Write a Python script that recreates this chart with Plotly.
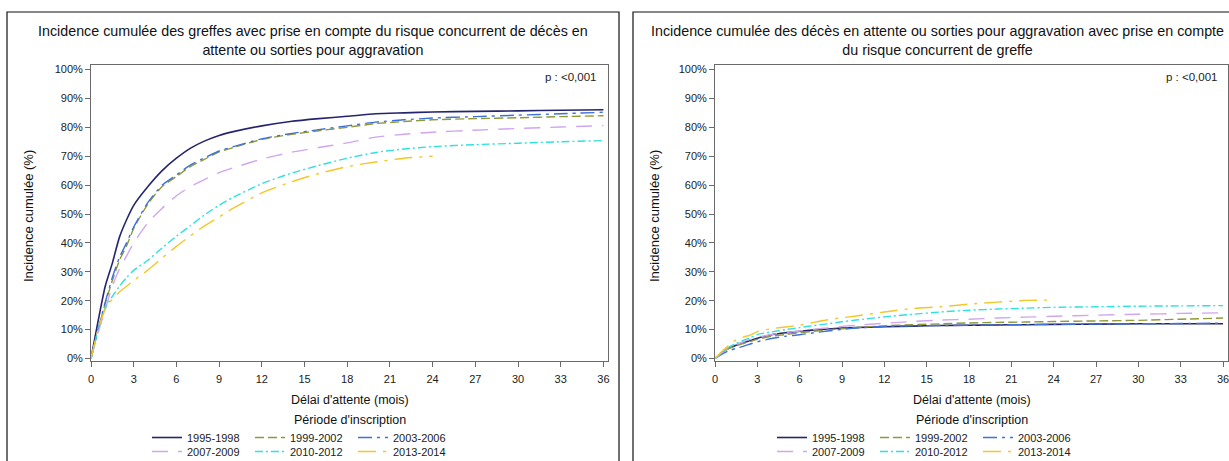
import plotly.graph_objects as go

W, H = 1229, 461

# ---------------- data ----------------
months = [0, 0.5, 1, 1.5, 2, 2.5, 3, 4, 5, 6, 7, 8, 9, 10, 12, 14, 16, 18, 20, 22, 24, 27, 30, 33, 36]
months_short = months[:21]  # 2013-2014 followed up to 24 months

periods = ["1995-1998", "1999-2002", "2003-2006", "2007-2009", "2010-2012", "2013-2014"]

# Left: greffes (transplants)
greffe_1995_1998 = [0, 13, 25, 33, 42, 48, 53, 59.5, 65, 69.3, 72.8, 75.3, 77.2, 78.5, 80.5, 82, 83, 83.8, 84.7, 85, 85.3, 85.5, 85.7, 85.9, 86.1]
greffe_1999_2002 = [0, 10, 19, 27, 34, 39, 45, 53.5, 59.5, 63, 66.5, 69, 71.5, 73, 75.8, 77.5, 78.8, 80, 81.3, 82, 82.6, 83, 83.3, 83.7, 84]
greffe_2003_2006 = [0, 10, 19.5, 28, 35, 40, 45.5, 54, 60, 63.5, 67, 69.5, 71.8, 73.3, 76, 77.8, 79.2, 80.5, 81.8, 82.6, 83.2, 83.7, 84.2, 84.7, 85.2]
greffe_2007_2009 = [0, 9, 17, 25, 31, 35.5, 40, 47, 52, 56.3, 59.5, 62, 64.3, 66, 69, 71.3, 73, 74.6, 76.6, 77.6, 78.3, 79, 79.6, 80.1, 80.6]
greffe_2010_2012 = [0, 10, 17.5, 21.5, 25, 28, 30.5, 34, 38.3, 42.3, 46, 49.8, 53, 55.8, 60.5, 64, 66.8, 69.3, 71.3, 72.5, 73.3, 74, 74.5, 75, 75.4]
greffe_2013_2014 = [0, 10, 17, 20.5, 23, 25, 27, 30.6, 34.8, 38.8, 42.5, 46, 49, 52, 57.3, 61, 64, 66.4, 68, 69.3, 70]

# Right: deces / sorties pour aggravation
deces_1995_1998 = [0, 2, 3.6, 4.6, 5.5, 6.2, 7, 8.2, 8.9, 9.4, 9.9, 10.2, 10.5, 10.7, 11, 11.2, 11.4, 11.5, 11.6, 11.7, 11.8, 11.9, 12, 12, 12]
deces_1999_2002 = [0, 2, 3.5, 4.4, 5.2, 5.9, 6.6, 7.7, 8.3, 8.9, 9.4, 9.9, 10.3, 10.7, 11.3, 11.7, 12, 12.3, 12.5, 12.6, 12.8, 13, 13.2, 13.6, 14]
deces_2003_2006 = [0, 1.5, 2.7, 3.5, 4.2, 5, 5.8, 6.9, 7.7, 8.2, 8.9, 9.5, 10.1, 10.5, 11.1, 11.3, 11.4, 11.5, 11.6, 11.7, 11.8, 11.9, 12, 12.1, 12.2]
deces_2007_2009 = [0, 2, 3.7, 4.8, 5.8, 6.6, 7.3, 8.3, 9, 9.5, 10.1, 10.6, 11.1, 11.5, 12.2, 12.8, 13.3, 13.6, 14, 14.3, 14.6, 15, 15.3, 15.6, 15.8]
deces_2010_2012 = [0, 2.2, 4, 5.3, 6.3, 7.2, 8.3, 9.2, 10, 10.7, 11.4, 12, 12.7, 13.3, 14.4, 15.3, 16.1, 16.7, 17.1, 17.4, 17.7, 17.9, 18.1, 18.2, 18.3]
deces_2013_2014 = [0, 2.5, 4.6, 6.5, 7.4, 8.1, 9.3, 10.3, 10.9, 11.5, 12.5, 13.4, 14.1, 14.7, 16.1, 17.3, 17.9, 18.8, 19.5, 20.1, 20.2]

x_ticks = [0, 3, 6, 9, 12, 15, 18, 21, 24, 27, 30, 33, 36]
y_ticks = [0, 10, 20, 30, 40, 50, 60, 70, 80, 90, 100]
y_ticktext = [f"{v}%" for v in y_ticks]

left_title = "Incidence cumulée des greffes avec prise en compte du risque concurrent de décès en<br>attente ou sorties pour aggravation"
right_title = "Incidence cumulée des décès en attente ou sorties pour aggravation avec prise en compte<br>du risque concurrent de greffe"
p_text = "p : <0,001"

# ---------------- styles ----------------
colors = ["#25256e", "#8f9a3a", "#3f72d8", "#cfa6ef", "#2fe0e0", "#f4c62a"]
dashes = ["solid", "9px,4px", "14px,5px,3px,5px", "16px,10px", "8px,3px,2px,3px", "18px,7px,3px,7px"]
widths = [1.6, 1.4, 1.4, 1.4, 1.4, 1.4]

FONT = "Liberation Sans, Arial, sans-serif"

left_series = [greffe_1995_1998, greffe_1999_2002, greffe_2003_2006, greffe_2007_2009, greffe_2010_2012, greffe_2013_2014]
right_series = [deces_1995_1998, deces_1999_2002, deces_2003_2006, deces_2007_2009, deces_2010_2012, deces_2013_2014]

fig = go.Figure()

def px_x(p):
    return p / W

def px_y(p):
    return 1 - p / H

# legend rows: first three periods on row 1, last three on row 2
for series, xa, ya, legs in [(left_series, "x", "y", ("legend", "legend3")),
                             (right_series, "x2", "y2", ("legend2", "legend4"))]:
    for i in range(6):
        ys = series[i]
        xs = months if len(ys) == len(months) else months_short
        fig.add_trace(go.Scatter(
            x=xs, y=ys, mode="lines", name=periods[i],
            line=dict(color=colors[i], dash=dashes[i], width=widths[i], shape="spline", smoothing=0.6),
            xaxis=xa, yaxis=ya, legend=legs[0] if i < 3 else legs[1],
            hoverinfo="skip",
        ))

axis_common = dict(
    showline=True, mirror=True, linecolor="#6a6a6a", linewidth=1,
    ticks="outside", ticklen=5, tickcolor="#6a6a6a", tickwidth=1,
    showgrid=False, zeroline=False, ticklabeloverflow="allow",
    tickfont=dict(family=FONT, size=11, color="#222"),
)

legend_common = dict(orientation="h", xanchor="left", yanchor="top", entrywidth=58,
                     font=dict(family=FONT, size=11, color="#222"),
                     bgcolor="rgba(0,0,0,0)", itemclick=False, itemdoubleclick=False)

fig.update_layout(
    width=W, height=H,
    margin=dict(l=0, r=0, t=0, b=0, autoexpand=False),
    paper_bgcolor="white", plot_bgcolor="white",
    showlegend=True,
    xaxis=dict(domain=[px_x(91), px_x(608)], range=[0, 36.32], tickvals=x_ticks, anchor="y",
               ticklabelstandoff=3, **axis_common),
    yaxis=dict(domain=[px_y(361), px_y(65)], range=[-0.87, 101.56], tickvals=y_ticks, ticktext=y_ticktext, anchor="x", **axis_common),
    xaxis2=dict(domain=[px_x(715), px_x(1228)], range=[0, 36.35], tickvals=x_ticks, anchor="y2",
                ticklabelstandoff=3, **axis_common),
    yaxis2=dict(domain=[px_y(361), px_y(65)], range=[-0.87, 101.56], tickvals=y_ticks, ticktext=y_ticktext, anchor="x2", **axis_common),
    legend=dict(x=px_x(147), y=px_y(423), **legend_common),
    legend3=dict(x=px_x(147), y=px_y(437), **legend_common),
    legend2=dict(x=px_x(772), y=px_y(423), **legend_common),
    legend4=dict(x=px_x(772), y=px_y(437), **legend_common),
)

# panel frames
fig.add_shape(type="rect", xref="paper", yref="paper", x0=px_x(7), x1=px_x(619), y0=-0.1, y1=px_y(12),
              line=dict(color="#111", width=1.2), layer="below")
fig.add_shape(type="rect", xref="paper", yref="paper", x0=px_x(633), x1=1.1, y0=-0.1, y1=px_y(12),
              line=dict(color="#111", width=1.2), layer="below")

ann_font = dict(family=FONT, size=14.3, color="#111")
xlab_font = dict(family=FONT, size=12.5, color="#111")
ylab_font = dict(family=FONT, size=13, color="#111")

for cx, title in [(313, left_title), (937, right_title)]:
    fig.add_annotation(x=px_x(cx), y=px_y(21), xref="paper", yref="paper", text=title, showarrow=False,
                       xanchor="center", yanchor="top", font=ann_font, align="center")

for (xc, ytc, pxr) in [(349.5, 28, 598), (971.5, 654, 1219)]:
    fig.add_annotation(x=px_x(xc), y=px_y(400), xref="paper", yref="paper", text="Délai d'attente (mois)",
                       showarrow=False, xanchor="center", yanchor="middle", font=xlab_font)
    fig.add_annotation(x=px_x(xc), y=px_y(420), xref="paper", yref="paper", text="Période d'inscription",
                       showarrow=False, xanchor="center", yanchor="middle", font=xlab_font)
    fig.add_annotation(x=px_x(ytc), y=px_y(216), xref="paper", yref="paper", text="Incidence cumulée (%)",
                       showarrow=False, textangle=-90, xanchor="center", yanchor="middle", font=ylab_font)
    fig.add_annotation(x=px_x(pxr), y=px_y(77), xref="paper", yref="paper", text=p_text,
                       showarrow=False, xanchor="right", yanchor="middle", font=dict(family=FONT, size=11.5, color="#222"))

fig.write_html("out.html", config={"displayModeBar": False},
               post_script="document.body.style.margin='0';document.body.style.padding='0';")
